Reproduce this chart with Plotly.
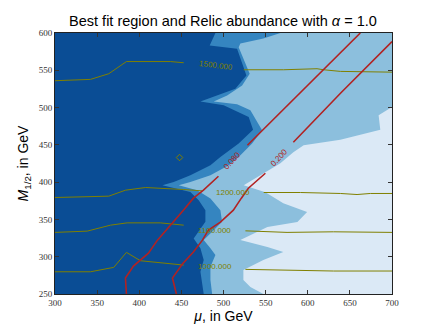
import plotly.graph_objects as go

# axis extents and ticks
MU_RANGE = [300, 700]
M12_RANGE = [250, 600]
MU_TICKS = [300, 350, 400, 450, 500, 550, 600, 650, 700]
M12_TICKS = [250, 300, 350, 400, 450, 500, 550, 600]

# filled best-fit bands (boundary of each band, traced top -> bottom)
DARK_EDGE_MU = [490.4, 483.6, 516.1, 522.1, 527.2, 514.1, 472.6, 500.2, 529.9, 535.1,
                518.0, 496.3, 484.5, 460.7, 440.9, 427.5, 460.7, 470.6, 478.5, 478.5,
                470.6, 464.6, 472.6, 476.5, 472.6, 474.6, 476.5]
DARK_EDGE_M12 = [600.0, 583.3, 578.9, 558.8, 543.1, 525.3, 508.3, 503.0, 487.3, 470.4,
                 451.7, 433.8, 422.6, 409.3, 400.3, 395.9, 386.9, 375.8, 362.4, 346.8,
                 333.4, 324.5, 311.2, 295.5, 279.8, 264.3, 250.0]

MID_EDGE_MU = [567.5, 547.3, 520.0, 518.0, 522.1, 526.0, 531.1, 522.1, 504.3, 488.4,
               516.1, 531.9, 541.7, 545.8, 533.9, 518.0, 506.2, 484.5, 460.7, 446.9,
               468.7, 484.5, 496.3, 498.3, 486.5, 476.5, 484.5, 490.4, 484.5, 484.5, 486.5]
MID_EDGE_M12 = [600.0, 592.6, 585.9, 581.0, 569.9, 558.8, 545.4, 529.7, 516.3, 508.3,
                504.3, 496.3, 478.5, 469.5, 451.7, 433.8, 422.6, 409.3, 400.3, 395.9,
                389.2, 378.1, 362.4, 346.8, 333.4, 322.3, 311.2, 302.2, 286.5, 268.7, 250.0]

LIGHT_EDGE_MU = [700.0, 684.1, 686.1, 638.7, 595.1, 582.9, 567.5, 546.1, 524.0, 549.7,
                 571.0, 599.2, 587.7, 552.1, 520.0, 552.1, 571.0, 547.3, 523.6, 523.6,
                 531.9, 547.3]
LIGHT_EDGE_M12 = [500.7, 489.6, 470.4, 457.0, 449.4, 440.0, 425.3, 410.6, 395.9, 386.5,
                  371.8, 360.1, 346.4, 339.7, 322.3, 312.9, 306.2, 295.5, 282.1, 268.7,
                  259.4, 250.0]

BAND_COLORS = ["#0a4d95", "#3585c0", "#8cbfdd", "#dbe9f6"]

# mass contours (olive), each split where the inline label sits
MASS_LEVELS = ["1500.000", "1200.000", "1100.000", "1000.000"]
MASS_LEFT_MU = [
    [300.0, 342.1, 363.8, 384.8, 437.0, 452.8],
    [300.0, 363.8, 383.6, 407.4, 452.8, 474.6],
    [300.0, 338.2, 365.8, 385.6, 425.1, 452.8],
    [300.0, 342.1, 369.7, 384.8, 401.4, 425.1, 452.8],
]
MASS_LEFT_M12 = [
    [536.0, 537.8, 545.4, 561.7, 561.7, 560.1],
    [379.4, 381.2, 389.2, 392.8, 390.1, 388.3],
    [332.6, 334.3, 342.3, 345.4, 345.4, 342.3],
    [279.8, 279.8, 285.7, 305.8, 294.6, 291.9, 288.8],
]
MASS_RIGHT_MU = [
    [524.0, 571.4, 611.0, 618.8, 638.7, 670.3, 700.0],
    [547.7, 591.2, 638.7, 658.5, 674.3, 700.0],
    [526.0, 551.7, 575.4, 630.7, 700.0],
    [526.0, 571.4, 630.7, 700.0],
]
MASS_RIGHT_M12 = [
    [550.7, 550.7, 552.1, 550.7, 548.5, 547.5, 547.5],
    [386.1, 386.1, 384.8, 383.4, 384.8, 384.8],
    [334.7, 333.4, 332.6, 333.4, 332.6],
    [283.0, 282.1, 280.8, 280.8],
]
MASS_LABEL_MU = [490.5, 510.7, 489.3, 489.5]
MASS_LABEL_M12 = [556.5, 386.5, 335.6, 287.4]
MASS_LABEL_ANGLE = [7, 0, 0, 0]
MASS_ISLAND_MU = [447.8]
MASS_ISLAND_M12 = [433.0]

# relic abundance contours (red)
RELIC_LEVELS = ["0.080", "0.200"]
RELIC_LOW_MU = [
    [384.8, 383.6, 393.1, 410.9, 421.6, 439.4, 452.4, 464.3, 476.2, 494.0],
    [444.1, 439.4, 451.2, 464.3, 475.0, 482.1, 496.3, 511.7, 521.2, 529.5, 549.7],
]
RELIC_LOW_M12 = [
    [250.0, 271.4, 287.4, 304.8, 322.2, 345.0, 362.4, 378.5, 389.2, 407.9],
    [250.0, 271.4, 290.2, 306.2, 322.2, 335.6, 346.3, 362.4, 378.5, 391.8, 411.9],
]
RELIC_HIGH_MU = [[528.4, 595.0, 662.4], [582.9, 640.0, 700.0]]
RELIC_HIGH_M12 = [[449.4, 524.0, 600.0], [453.4, 520.5, 588.6]]
RELIC_LABEL_MU = [510.7, 566.3]
RELIC_LABEL_M12 = [428.6, 432.7]

OLIVE = "#808000"
RED = "#b22222"

fig = go.Figure()

edges = [
    (DARK_EDGE_MU, DARK_EDGE_M12, [700, 700], [250, 600]),
    (MID_EDGE_MU, MID_EDGE_M12, [700, 700], [250, 600]),
    (LIGHT_EDGE_MU, LIGHT_EDGE_M12, [700], [250]),
]
for (ex, ey, cx, cy), color in zip(edges, BAND_COLORS[1:]):
    fig.add_trace(go.Scatter(
        x=ex + cx, y=ey + cy, mode="lines", fill="toself",
        fillcolor=color, line=dict(width=0), hoverinfo="skip",
    ))

for i, level in enumerate(MASS_LEVELS):
    for xs, ys in ((MASS_LEFT_MU[i], MASS_LEFT_M12[i]), (MASS_RIGHT_MU[i], MASS_RIGHT_M12[i])):
        fig.add_trace(go.Scatter(x=xs, y=ys, mode="lines", line=dict(color=OLIVE, width=1),
                                 hoverinfo="skip"))
    fig.add_annotation(x=MASS_LABEL_MU[i], y=MASS_LABEL_M12[i], text=level,
                       textangle=MASS_LABEL_ANGLE[i], showarrow=False,
                       font=dict(family="Liberation Sans", size=8, color=OLIVE))

fig.add_trace(go.Scatter(x=MASS_ISLAND_MU, y=MASS_ISLAND_M12, mode="markers",
                         marker=dict(symbol="diamond-open", size=5, color=OLIVE, line=dict(width=1)),
                         hoverinfo="skip"))

for i, level in enumerate(RELIC_LEVELS):
    for xs, ys in ((RELIC_LOW_MU[i], RELIC_LOW_M12[i]), (RELIC_HIGH_MU[i], RELIC_HIGH_M12[i])):
        fig.add_trace(go.Scatter(x=xs, y=ys, mode="lines", line=dict(color=RED, width=1.6),
                                 hoverinfo="skip"))
    fig.add_annotation(x=RELIC_LABEL_MU[i], y=RELIC_LABEL_M12[i], text=level,
                       textangle=-47, showarrow=False,
                       font=dict(family="Liberation Sans", size=8, color=RED))

axis_style = dict(
    ticks="inside", ticklen=4, tickcolor="#333333", mirror="allticks",
    showline=True, linecolor="#222222", linewidth=1, showgrid=False, zeroline=False,
    automargin=False,
    tickfont=dict(family="Liberation Serif", size=9, color="#333333"),
)

# the page body adds an 8px offset, so margins are shifted up/left by 8px
fig.update_layout(
    width=436, height=327,
    margin=dict(l=47, r=52, t=25, b=41, autoexpand=False),
    paper_bgcolor="white", plot_bgcolor=BAND_COLORS[0],
    showlegend=False,
    title=dict(text="Best fit region and Relic abundance with <i>α</i> = 1.0",
               font=dict(family="Liberation Sans", size=14.5, color="black"),
               x=0.493, xanchor="center", y=0.962, yanchor="middle"),
    xaxis=dict(range=MU_RANGE, tickvals=MU_TICKS,
               title=dict(text="<i>μ</i>, in GeV", standoff=0,
                          font=dict(family="Liberation Sans", size=14, color="black")),
               **axis_style),
    yaxis=dict(range=M12_RANGE, tickvals=M12_TICKS,
               title=dict(text="<i>M</i><sub>1/2</sub>, in GeV", standoff=6,
                          font=dict(family="Liberation Sans", size=14, color="black")),
               **axis_style),
)

fig.write_html("out.html")
